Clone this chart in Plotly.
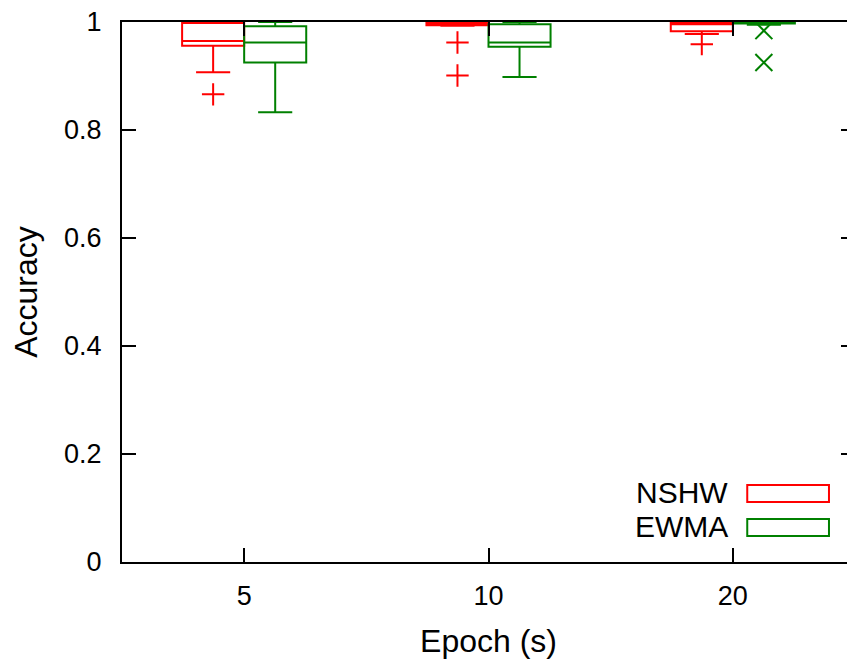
import plotly.graph_objects as go

# epochs (s) on the x axis
epochs = ['5', '10', '20']

# box statistics, one value per epoch
nshw_q1 = [0.956, 0.994, 0.983]
nshw_median = [0.965, 0.996, 0.996]
nshw_q3 = [0.998, 0.998, 0.998]
nshw_lo = [0.907, 0.993, 0.978]
nshw_hi = [1.0, 1.0, 1.0]

ewma_q1 = [0.925, 0.954, 0.997]
ewma_median = [0.962, 0.962, 0.999]
ewma_q3 = [0.992, 0.996, 1.0]
ewma_lo = [0.833, 0.898, 0.995]
ewma_hi = [1.0, 1.0, 1.0]

# outliers: (epoch index, value)
nshw_out_idx = [0, 1, 1, 2]
nshw_out_val = [0.866, 0.962, 0.901, 0.959]
ewma_out_idx = [2, 2]
ewma_out_val = [0.984, 0.925]

RED = '#ff0000'
GREEN = '#008000'
FONT = 'Liberation Sans, Arial, sans-serif'
BW = 0.254  # box width in category units
OFF = BW / 2

idx = list(range(len(epochs)))

fig = go.Figure()

def add_box(name, color, q1, med, q3, lo, hi, shift):
    fig.add_trace(go.Box(
        x=[i + shift for i in idx], q1=q1, median=med, q3=q3,
        lowerfence=lo, upperfence=hi, name=name, width=BW,
        whiskerwidth=0.55, fillcolor='rgba(0,0,0,0)',
        line=dict(color=color, width=2), boxpoints=False,
        showlegend=False))

add_box('NSHW', RED, nshw_q1, nshw_median, nshw_q3, nshw_lo, nshw_hi, -OFF)
add_box('EWMA', GREEN, ewma_q1, ewma_median, ewma_q3, ewma_lo, ewma_hi, OFF)

fig.add_trace(go.Scatter(
    x=[i - OFF for i in nshw_out_idx], y=nshw_out_val, mode='markers',
    marker=dict(symbol='cross-thin', size=16, line=dict(color=RED, width=2)),
    showlegend=False))
fig.add_trace(go.Scatter(
    x=[i + OFF for i in ewma_out_idx], y=ewma_out_val, mode='markers',
    marker=dict(symbol='x-thin', size=17, line=dict(color=GREEN, width=2)),
    showlegend=False))

# right-hand mirrored ticks without an axis line
fig.add_trace(go.Scatter(x=[None], y=[None], yaxis='y2', showlegend=False))

# gnuplot-like key: text then sample box
for name, color, y0, y1, ty in [('NSHW', RED, 0.111, 0.1426, 0.128),
                                ('EWMA', GREEN, 0.048, 0.0796, 0.065)]:
    fig.add_shape(type='rect', xref='paper', yref='paper', x0=0.853, x1=0.9645,
                  y0=y0, y1=y1, line=dict(color=color, width=2))
    fig.add_annotation(text=name, xref='paper', yref='paper', x=0.829, y=ty,
                       xanchor='right', yanchor='middle', showarrow=False,
                       font=dict(size=30, color='black', family=FONT))

fig.update_layout(
    width=847, height=656,
    margin=dict(l=114, r=0, t=14, b=102, autoexpand=False),
    plot_bgcolor='white', paper_bgcolor='white',
    font=dict(family=FONT, size=27, color='black'),
    xaxis=dict(
        tickvals=idx, ticktext=epochs, range=[-0.5, 2.5],
        showline=True, linecolor='black', linewidth=2, mirror='ticks',
        ticks='inside', ticklen=14, tickwidth=2, tickcolor='black',
        showgrid=False, zeroline=False, ticklabelstandoff=9,
        automargin=False,
        title=dict(text='Epoch (s)', standoff=19)),
    yaxis=dict(
        range=[0, 1], dtick=0.2,
        showline=True, linecolor='black', linewidth=2,
        ticks='inside', ticklen=14, tickwidth=2, tickcolor='black',
        showgrid=False, zeroline=False, ticklabelstandoff=13,
        ticklabeloverflow='allow', automargin=False,
        title=dict(text='Accuracy', standoff=18)),
    yaxis2=dict(
        overlaying='y', side='right', matches='y', range=[0, 1], dtick=0.2,
        showline=False, showticklabels=False, ticks='inside', ticklen=14,
        tickwidth=2, tickcolor='black', showgrid=False, zeroline=False),
)

fig.write_html('out.html')
